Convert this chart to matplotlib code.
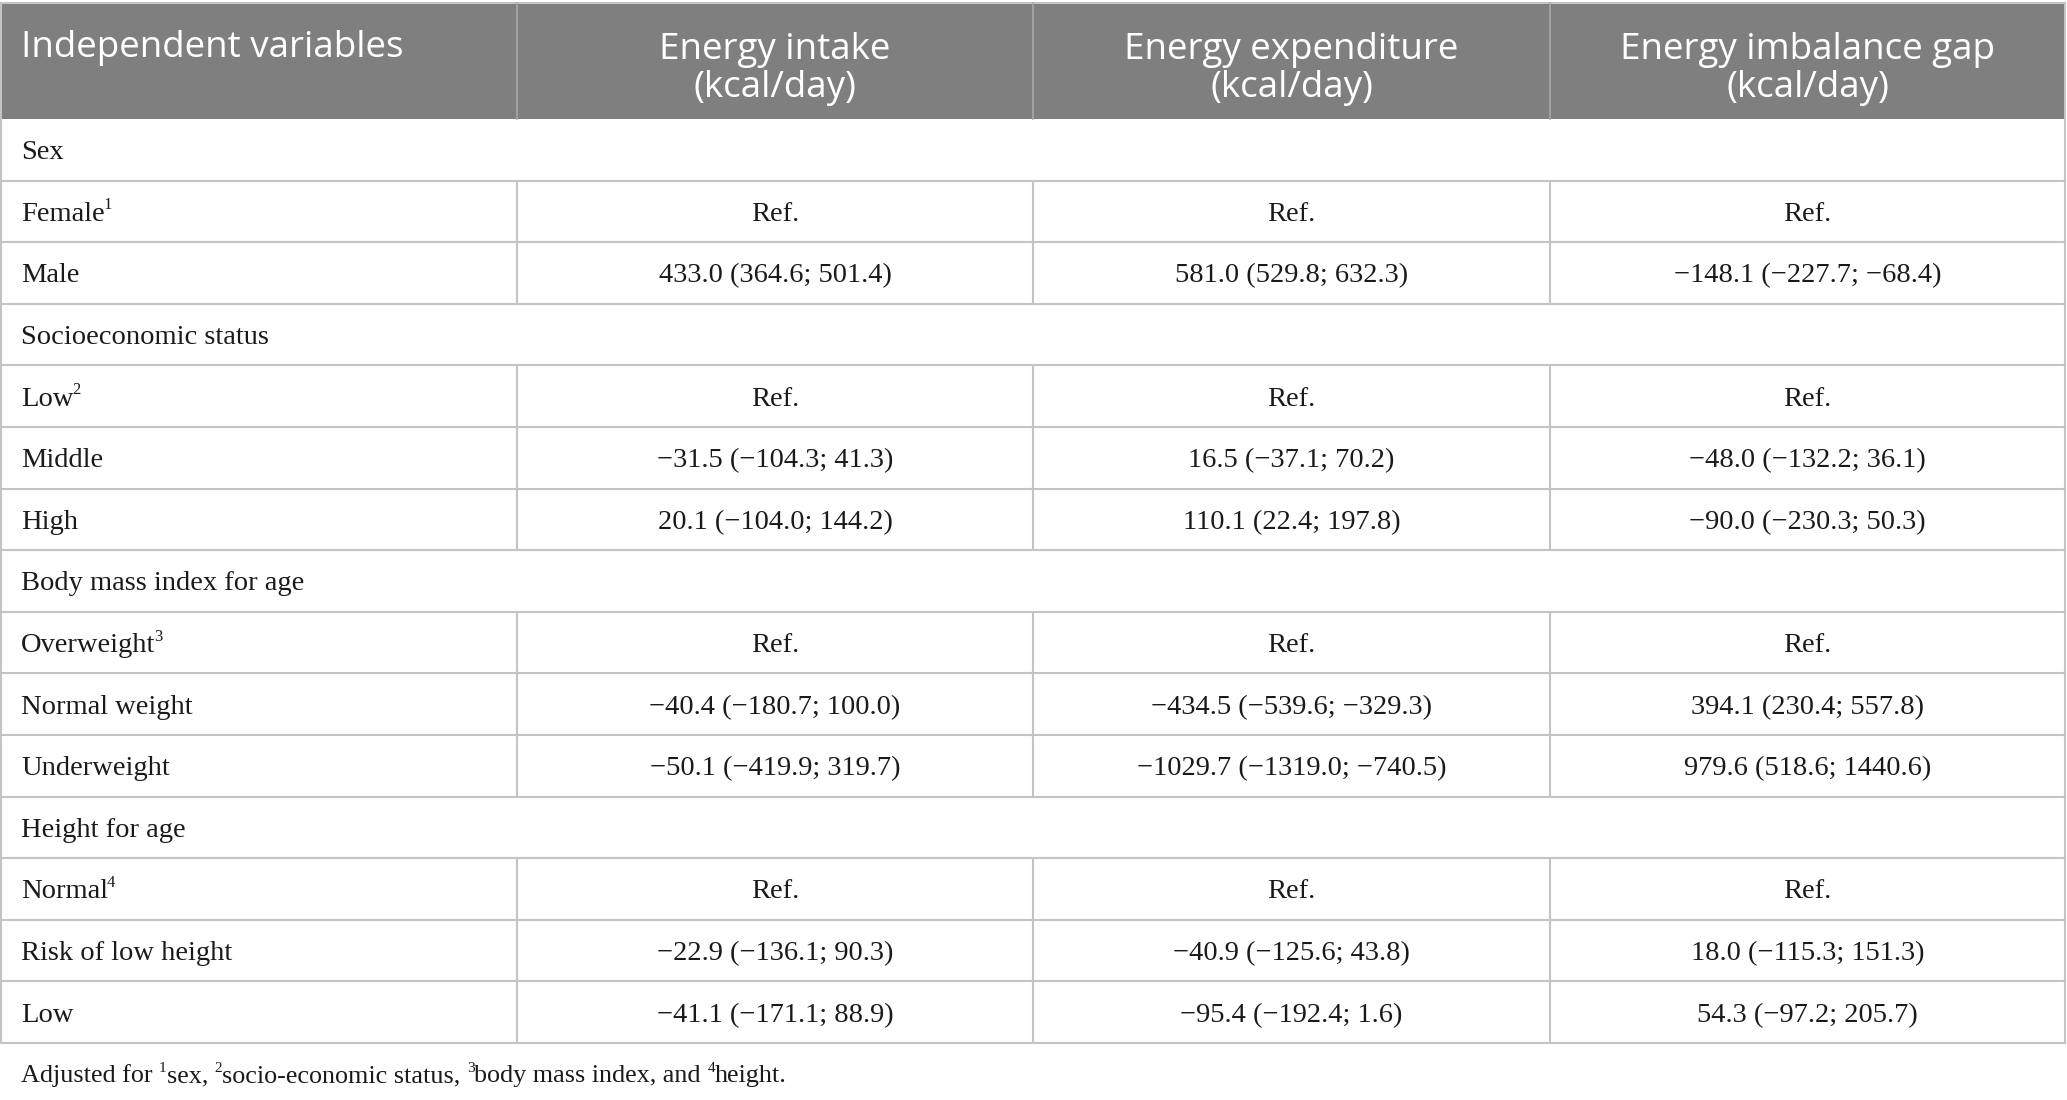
import matplotlib
matplotlib.use('Agg')
import matplotlib.pyplot as plt

# table content
header = ['Independent variables', 'Energy intake\n(kcal/day)',
          'Energy expenditure\n(kcal/day)', 'Energy imbalance gap\n(kcal/day)']
row_labels = ['Sex', 'Female', 'Male', 'Socioeconomic status', 'Low', 'Middle', 'High',
              'Body mass index for age', 'Overweight', 'Normal weight', 'Underweight',
              'Height for age', 'Normal', 'Risk of low height', 'Low']
row_sup = ['', '1', '', '', '2', '', '', '', '3', '', '', '', '4', '', '']
section_rows = [0, 3, 7, 11]
intake = ['', 'Ref.', '433.0 (364.6; 501.4)', '', 'Ref.', '−31.5 (−104.3; 41.3)',
          '20.1 (−104.0; 144.2)', '', 'Ref.', '−40.4 (−180.7; 100.0)',
          '−50.1 (−419.9; 319.7)', '', 'Ref.', '−22.9 (−136.1; 90.3)',
          '−41.1 (−171.1; 88.9)']
expenditure = ['', 'Ref.', '581.0 (529.8; 632.3)', '', 'Ref.', '16.5 (−37.1; 70.2)',
               '110.1 (22.4; 197.8)', '', 'Ref.', '−434.5 (−539.6; −329.3)',
               '−1029.7 (−1319.0; −740.5)', '', 'Ref.', '−40.9 (−125.6; 43.8)',
               '−95.4 (−192.4; 1.6)']
gap = ['', 'Ref.', '−148.1 (−227.7; −68.4)', '', 'Ref.', '−48.0 (−132.2; 36.1)',
       '−90.0 (−230.3; 50.3)', '', 'Ref.', '394.1 (230.4; 557.8)',
       '979.6 (518.6; 1440.6)', '', 'Ref.', '18.0 (−115.3; 151.3)',
       '54.3 (−97.2; 205.7)']
footnote = [('Adjusted for ', ''), ('sex, ', '1'), ('socio-economic status, ', '2'),
            ('body mass index, and ', '3'), ('height.', '4')]

W, H = 2067, 1100
fig = plt.figure(figsize=(W / 100, H / 100), dpi=100)
ax = fig.add_axes([0, 0, 1, 1])
ax.set_xlim(0, W)
ax.set_ylim(H, 0)
ax.axis('off')

serif = 'Liberation Serif'
sans = 'Open Sans'
fs_body = 20.5
fs_foot = 18.8
fs_head = 26.5
fs_sup = 12
line_c = '#c4c4c4'
head_c = '#7f7f7f'
txt_c = '#1a1a1a'

col_x = [0, 517, 1033, 1550, 2065]
head_top, head_bot = 3, 119
row_h = (1043 - head_bot) / len(row_labels)
pad = 21

# header
ax.add_patch(plt.Rectangle((0, head_top), W - 2, head_bot - head_top,
                           facecolor=head_c, edgecolor='none'))
ax.plot([0, col_x[-1]], [head_top, head_top], color=line_c, lw=1.5)
for x in col_x[1:-1]:
    ax.plot([x, x], [head_top, head_bot], color='#a8a8a8', lw=1.2)
ax.text(pad, 48, header[0], fontsize=fs_head, family=sans, color='white',
        ha='left', va='center')
for j in range(1, 4):
    cx = (col_x[j] + col_x[j + 1]) / 2
    ax.text(cx, 69, header[j], fontsize=fs_head, family=sans, color='white',
            ha='center', va='center', linespacing=1.05)

fig.canvas.draw()
renderer = fig.canvas.get_renderer()
inv = ax.transData.inverted()

def text_width(t):
    bb = t.get_window_extent(renderer=renderer)
    p0 = inv.transform((bb.x0, bb.y0))
    p1 = inv.transform((bb.x1, bb.y0))
    return p1[0] - p0[0]

cols = [intake, expenditure, gap]
for i, lab in enumerate(row_labels):
    y0 = head_bot + i * row_h
    y1 = y0 + row_h
    yc = (y0 + y1) / 2 + 3
    t = ax.text(pad, yc, lab, fontsize=fs_body, family=serif, color=txt_c,
                ha='left', va='center')
    if row_sup[i]:
        w = text_width(t)
        ax.text(pad + w - 1, yc - 9, row_sup[i], fontsize=fs_sup, family=serif,
                color=txt_c, ha='left', va='center')
    if i not in section_rows:
        for j, col in enumerate(cols):
            cx = (col_x[j + 1] + col_x[j + 2]) / 2
            ax.text(cx, yc, col[i], fontsize=fs_body, family=serif, color=txt_c,
                    ha='center', va='center')
        for x in col_x[1:-1]:
            ax.plot([x, x], [y0, y1], color=line_c, lw=1.5)
    ax.plot([0, col_x[-1]], [y1, y1], color=line_c, lw=1.5)

# outer borders
ax.plot([1, 1], [head_top, 1043], color=line_c, lw=1.5)
ax.plot([col_x[-1], col_x[-1]], [head_top, 1043], color=line_c, lw=1.5)

# footnote with superscripts
x = pad
fy = 1076
for part, sup in footnote:
    if sup:
        s = ax.text(x, fy - 8, sup, fontsize=fs_sup - 1, family=serif, color=txt_c,
                    ha='left', va='center')
        x += text_width(s)
    t = ax.text(x, fy, part, fontsize=fs_foot, family=serif, color=txt_c,
                ha='left', va='center')
    x += text_width(t)

fig.savefig('out.png', dpi=100, facecolor='white')
